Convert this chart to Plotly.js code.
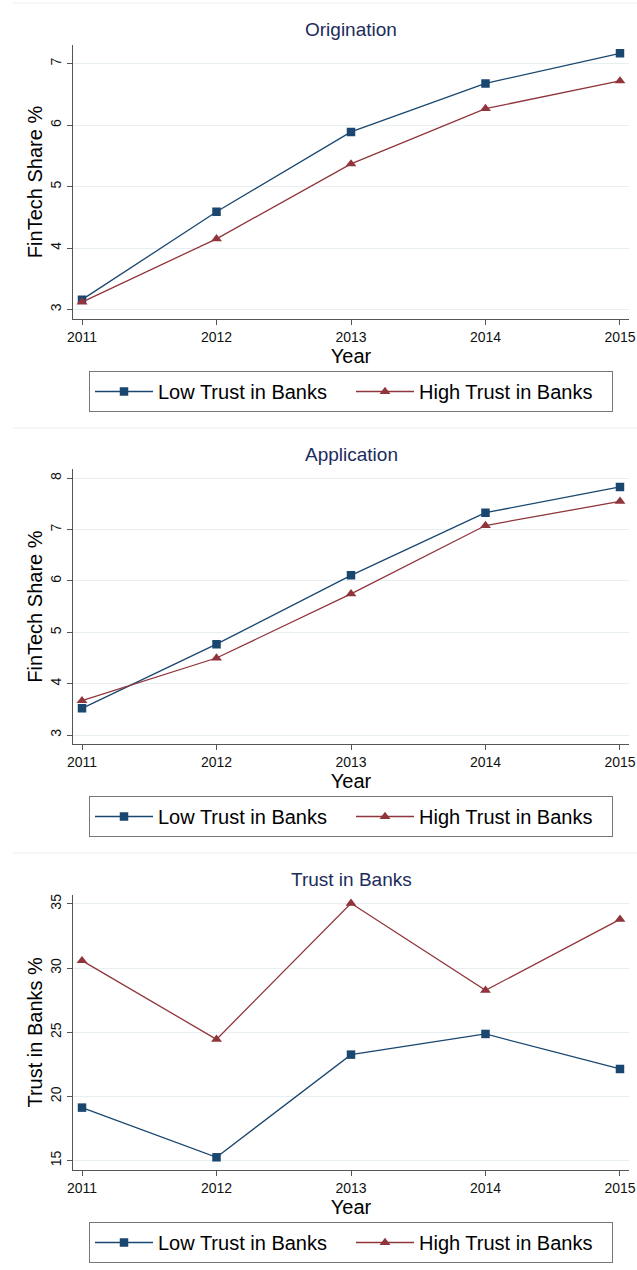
<!DOCTYPE html>
<html><head><meta charset="utf-8">
<script src="https://cdn.plot.ly/plotly-3.0.1.min.js"></script>
<style>html,body{margin:0;padding:0;background:#fff;} #chart{width:637px;height:1270px;}</style>
</head><body><div id="chart"></div>
<script>
const years = [2011, 2012, 2013, 2014, 2015];
const originationLow = [3.16, 4.59, 5.89, 6.68, 7.17];
const originationHigh = [3.12, 4.15, 5.37, 6.27, 6.72];
const applicationLow = [3.52, 4.77, 6.11, 7.33, 7.83];
const applicationHigh = [3.67, 4.50, 5.75, 7.08, 7.55];
const trustLow = [19.13, 15.26, 23.26, 24.87, 22.14];
const trustHigh = [30.58, 24.45, 35.05, 28.27, 33.80];
const panelTitles = ['Origination', 'Application', 'Trust in Banks'];
const yTitles = ['FinTech Share %', 'FinTech Share %', 'Trust in Banks %'];
const seriesNames = ['Low Trust in Banks', 'High Trust in Banks'];
const xTitle = 'Year';

const H = 1270;
const FONT = 'Liberation Sans, Arial, sans-serif';
const lowColor = '#1a476f';
const highColor = '#90353b';
const titleColor = '#1c2c5c';

const panels = [
  {low: originationLow, high: originationHigh, yr: [2.84, 7.31], dtick: 1, top: 44.7, bot: 319.3, leg: 371},
  {low: applicationLow, high: applicationHigh, yr: [2.82, 8.18], dtick: 1, top: 469, bot: 744.3, leg: 796},
  {low: trustLow, high: trustHigh, yr: [14.27, 35.72], dtick: 5, top: 894.7, bot: 1170, leg: 1222}
];

const data = [];
const layout = {
  width: 637, height: H,
  margin: {l: 73, r: 8, t: 0, b: 0},
  paper_bgcolor: '#fff', plot_bgcolor: '#fff',
  font: {family: FONT, color: '#000'},
  annotations: [], shapes: []
};

panels.forEach((p, i) => {
  const s = i === 0 ? '' : String(i + 1);
  const legName = 'legend' + s;
  data.push({
    x: years, y: p.low, name: seriesNames[0], type: 'scatter', mode: 'lines+markers',
    xaxis: 'x' + s, yaxis: 'y' + s, legend: legName,
    line: {color: lowColor, width: 1.3},
    marker: {symbol: 'square', size: 8.5, color: lowColor}
  });
  data.push({
    x: years, y: p.high, name: seriesNames[1], type: 'scatter', mode: 'lines+markers',
    xaxis: 'x' + s, yaxis: 'y' + s, legend: legName,
    line: {color: highColor, width: 1.3},
    marker: {symbol: 'triangle-up', size: 9.5, color: highColor}
  });
  layout['xaxis' + s] = {
    anchor: 'y' + s, domain: [0, 1], range: [2010.933, 2015.067],
    tickvals: years, ticktext: years.map(String),
    showgrid: false, zeroline: false,
    showline: true, linecolor: '#555', linewidth: 1,
    ticks: 'outside', ticklen: 5, tickcolor: '#555',
    tickfont: {size: 14, family: FONT, color: '#111'},
    title: {text: xTitle, font: {size: 20, family: FONT, color: '#000'}, standoff: 0}
  };
  layout['yaxis' + s] = {
    anchor: 'x' + s,
    domain: [1 - p.bot / H, 1 - p.top / H],
    range: p.yr, dtick: p.dtick, tick0: 0,
    showgrid: true, gridcolor: '#e8eff1', gridwidth: 1,
    zeroline: false,
    showline: true, linecolor: '#555', linewidth: 1,
    ticks: 'outside', ticklen: 5, tickcolor: '#555',
    tickangle: -90,
    tickfont: {size: 14, family: FONT, color: '#111'},
    title: {text: yTitles[i], font: {size: 20, family: FONT, color: '#000'}, standoff: 0}
  };
  layout[legName] = {
    orientation: 'h', x: 0.5, xanchor: 'center',
    y: 1 - p.leg / H, yanchor: 'top', yref: 'paper',
    bordercolor: '#777', borderwidth: 1, bgcolor: '#fff',
    font: {size: 20, family: FONT, color: '#000'},
    itemwidth: 58, entrywidth: 188, traceorder: 'normal'
  };
  layout.annotations.push({
    text: panelTitles[i], xref: 'paper', yref: 'paper', x: 0.5, xanchor: 'center',
    y: 1 - (p.top - 15) / H, yanchor: 'middle', showarrow: false,
    font: {size: 19, family: FONT, color: titleColor}
  });
});

[3, 428, 853].forEach(yy => {
  layout.shapes.push({type: 'line', xref: 'paper', yref: 'paper',
    x0: -60 / 556, x1: 1.02, y0: 1 - yy / H, y1: 1 - yy / H,
    line: {color: '#eeeeee', width: 1}});
});

Plotly.newPlot('chart', data, layout, {displayModeBar: false, staticPlot: true});
</script>
</body></html>
